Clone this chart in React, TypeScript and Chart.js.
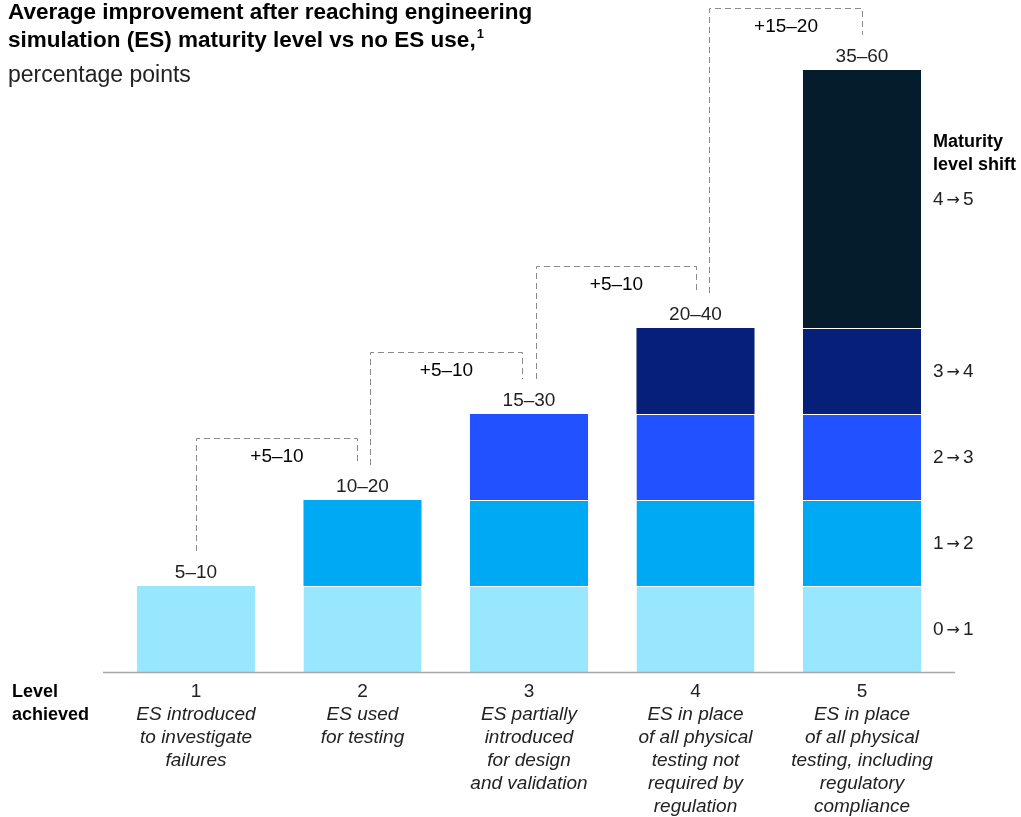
import { useEffect, useRef } from "react";
import { Chart, registerables } from "chart.js";

Chart.register(...registerables);

// Maturity levels along the x axis
const levels = ["1", "2", "3", "4", "5"];
const levelDescriptions = [
  ["ES introduced", "to investigate", "failures"],
  ["ES used", "for testing"],
  ["ES partially", "introduced", "for design", "and validation"],
  ["ES in place", "of all physical", "testing not", "required by", "regulation"],
  ["ES in place", "of all physical", "testing, including", "regulatory", "compliance"],
];

// Percentage points gained by each level shift (low end of the range)
const shiftFrom = ["0", "1", "2", "3", "4"];
const shiftTo = ["1", "2", "3", "4", "5"];
const shiftGain = [5, 5, 5, 5, 15];
const shiftColors = ["#99E6FF", "#00A9F4", "#2251FF", "#061F79", "#051C2C"];

// Range labels: total improvement per level, and step between levels
const totalLabels = ["5–10", "10–20", "15–30", "20–40", "35–60"];
const stepLabels = ["+5–10", "+5–10", "+5–10", "+15–20"];

const FONT = '"Liberation Sans", "Helvetica Neue", Arial, sans-serif';
const ARROW_FONT = '"DejaVu Sans", sans-serif';

// Horizontal nudges for the bracket legs relative to bar centres
const bracketLeftShift = [0, 7, 6.5, 13.5];
const bracketRightShift = [-6, -7, 0, 0];

const annotations = {
  id: "annotations",
  afterDraw(chart: any) {
    const ctx: CanvasRenderingContext2D = chart.ctx;
    const xs = chart.scales.x;
    const base = chart.scales.y.getPixelForValue(0);
    const centers = levels.map((_, i) => xs.getPixelForValue(i));
    const tops = levels.map((_, i) => chart.getDatasetMeta(i).data[i].y);

    ctx.save();

    // Title block
    ctx.fillStyle = "#000";
    ctx.textAlign = "left";
    ctx.textBaseline = "alphabetic";
    ctx.font = `bold 22.5px ${FONT}`;
    ctx.fillText("Average improvement after reaching engineering", 8, 19);
    const line2 = "simulation (ES) maturity level vs no ES use,";
    ctx.fillText(line2, 8, 47);
    const w2 = ctx.measureText(line2).width;
    ctx.font = `bold 13px ${FONT}`;
    ctx.fillText("1", 8 + w2 + 1, 38);
    ctx.font = `23px ${FONT}`;
    ctx.fillStyle = "#222";
    ctx.fillText("percentage points", 8, 82);

    // Baseline
    ctx.strokeStyle = "#a6a6a6";
    ctx.lineWidth = 1.5;
    ctx.beginPath();
    ctx.moveTo(103, base + 0.5);
    ctx.lineTo(955, base + 0.5);
    ctx.stroke();

    // Total range above each bar
    ctx.textAlign = "center";
    ctx.fillStyle = "#222";
    ctx.font = `19px ${FONT}`;
    centers.forEach((cx, i) => ctx.fillText(totalLabels[i], cx, tops[i] - 8));

    // Dashed step brackets between consecutive bars
    ctx.strokeStyle = "#8a8a8a";
    ctx.lineWidth = 1;
    ctx.setLineDash([6, 4]);
    stepLabels.forEach((label, i) => {
      const x1 = Math.round(centers[i] + bracketLeftShift[i]) + 0.5;
      const x2 = Math.round(centers[i + 1] + bracketRightShift[i]) + 0.5;
      const top = Math.round(tops[i + 1] - 62) + 0.5;
      ctx.beginPath();
      ctx.moveTo(x1, tops[i] - 35);
      ctx.lineTo(x1, top);
      ctx.lineTo(x2, top);
      ctx.lineTo(x2, tops[i + 1] - 35);
      ctx.stroke();
      ctx.fillStyle = "#000";
      ctx.fillText(label, (x1 + x2) / 2, top + 23);
    });
    ctx.setLineDash([]);

    // Category labels
    ctx.fillStyle = "#222";
    centers.forEach((cx, i) => {
      ctx.font = `19px ${FONT}`;
      ctx.fillText(levels[i], cx, base + 25);
      ctx.font = `italic 19px ${FONT}`;
      levelDescriptions[i].forEach((ln, j) => ctx.fillText(ln, cx, base + 48 + j * 23));
    });
    ctx.textAlign = "left";
    ctx.fillStyle = "#000";
    ctx.font = `bold 18px ${FONT}`;
    ctx.fillText("Level", 12, base + 25);
    ctx.fillText("achieved", 12, base + 48);

    // Legend at the right of the last bar
    const lx = 933;
    ctx.fillText("Maturity", lx, 147);
    ctx.fillText("level shift", lx, 170);
    ctx.fillStyle = "#222";
    ctx.textBaseline = "middle";
    const last = levels.length - 1;
    shiftFrom.forEach((from, k) => {
      const el = chart.getDatasetMeta(k).data[last];
      const cy = (el.y + el.base) / 2 + 1;
      let x = lx;
      ctx.font = `19px ${FONT}`;
      ctx.fillText(from, x, cy);
      x += ctx.measureText(from).width + 3;
      ctx.font = `16px ${ARROW_FONT}`;
      ctx.fillText("→", x, cy + 1);
      x += ctx.measureText("→").width + 3;
      ctx.font = `19px ${FONT}`;
      ctx.fillText(shiftTo[k], x, cy);
    });

    ctx.restore();
  },
};

export default function App() {
  const canvasRef = useRef<HTMLCanvasElement | null>(null);

  useEffect(() => {
    const canvas = canvasRef.current;
    if (!canvas) return;
    const datasets = shiftFrom.map((from, k) => ({
      label: `${from} → ${shiftTo[k]}`,
      data: levels.map((_, i) => (i >= k ? shiftGain[k] : null)),
      backgroundColor: shiftColors[k],
      borderColor: "#ffffff",
      borderWidth: (c: any) =>
        c.dataIndex === c.datasetIndex ? 0 : { top: 1, bottom: 0, left: 0, right: 0 },
      borderSkipped: false,
      categoryPercentage: 1,
      barPercentage: 0.709,
    }));
    const chart = new Chart(canvas, {
      type: "bar",
      data: { labels: levels, datasets },
      options: {
        animation: false,
        responsive: false,
        devicePixelRatio: 1,
        layout: { padding: { left: 112.75, right: 75.75, top: 70, bottom: 145 } },
        plugins: { legend: { display: false }, tooltip: { enabled: false } },
        scales: {
          x: { stacked: true, display: false, offset: true },
          y: { stacked: true, display: false, min: 0, max: 35 },
        },
      },
      plugins: [annotations],
    });
    return () => chart.destroy();
  }, []);

  return (
    <div style={{ position: "fixed", left: 0, top: 0, width: 1021, height: 817, background: "#fff" }}>
      <canvas ref={canvasRef} width={1021} height={817} style={{ width: 1021, height: 817 }} />
    </div>
  );
}
